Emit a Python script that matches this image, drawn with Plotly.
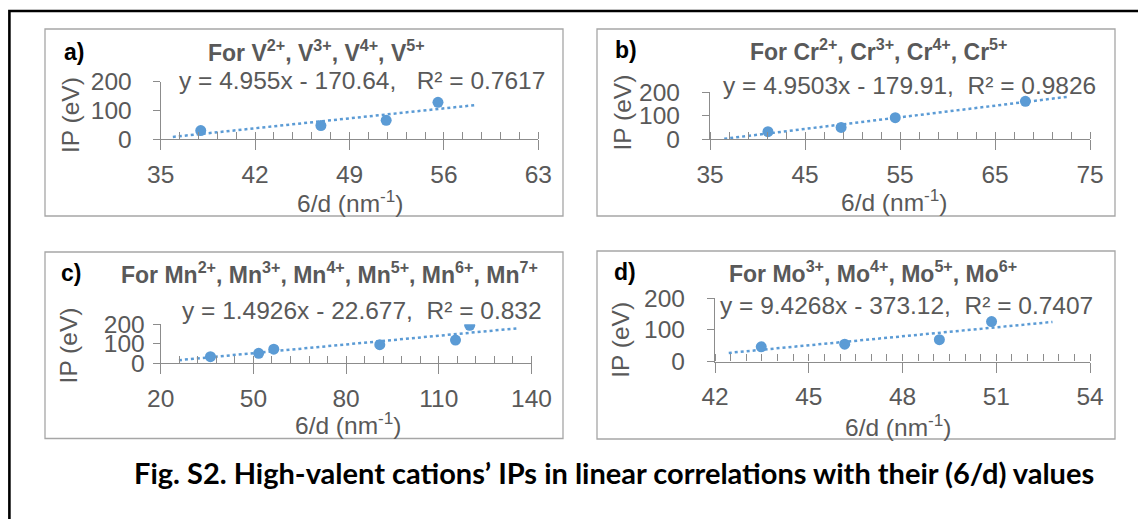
import plotly.graph_objects as go

W, H = 1146, 519

# ---------------- data ----------------
a_x = [37.97, 46.88, 51.72, 55.56]
a_y = [29.31, 46.71, 65.28, 128.13]
a_fit = (4.955, -170.64)
a_fit_x = [35.9, 58.3]

b_x = [41.1, 48.8, 54.5, 68.2]
b_y = [30.96, 49.16, 90.63, 160.18]
b_fit = (4.9503, -179.91)
b_fit_x = [36.5, 72.8]

c_x = [36.1, 51.7, 56.6, 90.9, 115.4, 120.0]
c_y = [33.67, 51.2, 72.4, 95.6, 119.2, 194.5]
c_fit = (1.4926, -22.677)
c_fit_x = [25.9, 135.1]

d_x = [43.48, 46.15, 49.18, 50.85]
d_y = [46.4, 54.49, 68.83, 125.66]
d_fit = (9.4268, -373.12)
d_fit_x = [42.44, 52.8]

titles = [
    "For V<sup>2+</sup>, V<sup>3+</sup>, V<sup>4+</sup>, V<sup>5+</sup>",
    "For Cr<sup>2+</sup>, Cr<sup>3+</sup>, Cr<sup>4+</sup>, Cr<sup>5+</sup>",
    "For Mn<sup>2+</sup>, Mn<sup>3+</sup>, Mn<sup>4+</sup>, Mn<sup>5+</sup>, Mn<sup>6+</sup>, Mn<sup>7+</sup>",
    "For Mo<sup>3+</sup>, Mo<sup>4+</sup>, Mo<sup>5+</sup>, Mo<sup>6+</sup>",
]
equations = [
    "y = 4.955x - 170.64,   R² = 0.7617",
    "y = 4.9503x - 179.91,  R² = 0.9826",
    "y = 1.4926x - 22.677,  R² = 0.832",
    "y = 9.4268x - 373.12,  R² = 0.7407",
]
letters = ["a)", "b)", "c)", "d)"]
x_ranges = [[35, 63], [35, 75], [20, 140], [42, 54]]
x_dticks = [7, 10, 30, 3]
x_minor = [1.4, 2, 6, 0.5]
y_range = [0, 200]
caption = "Fig. S2. High-valent cations\u2019 IPs in linear correlations with their (6/d) values"

# ---------------- layout geometry (page pixels) ----------------
areas = [
    (160.7, 538.3, 81.7, 139.0),
    (710.0, 1090.0, 92.0, 139.0),
    (160.7, 531.5, 324.3, 363.3),
    (715.0, 1090.0, 298.0, 361.5),
]
frames = [(45, 29, 563, 216), (597, 29, 1115, 216), (45, 252, 563, 438.5), (597, 251, 1115, 439)]
title_pos = [(316.7, 51), (878, 50), (329.8, 273), (872.7, 272)]
letter_pos = [(74, 52), (626, 50), (71, 273), (625, 272)]
eq_pos = [(361.7, 81), (909, 85), (361.5, 310), (906, 305)]
xt_pos = [(350, 201.7), (894, 200), (347.8, 423.3), (897.7, 425)]
yt_pos = [(70, 115), (621.5, 113), (68.4, 345), (619.7, 340)]
ylab_standoff = [16, 17, 3, 17]

OFF = 8  # page offset of the figure (body margin)

def px(x):
    return (x - OFF) / W

def py(y):
    return 1 - (y - OFF) / H

FONT = "Liberation Sans, Arial, sans-serif"
GREY = "#595959"
AXC = "#8C8C8C"
BLUE = "#5B9BD5"
FS = 24.5

fig = go.Figure()

datasets = [(a_x, a_y, a_fit, a_fit_x), (b_x, b_y, b_fit, b_fit_x),
            (c_x, c_y, c_fit, c_fit_x), (d_x, d_y, d_fit, d_fit_x)]

for i, (xs, ys, fit, fx) in enumerate(datasets):
    n = "" if i == 0 else str(i + 1)
    xa, ya = "x" + n, "y" + n
    m, b = fit
    fig.add_trace(go.Scatter(x=fx, y=[m * v + b for v in fx], mode="lines",
                             line=dict(color=BLUE, width=2.5, dash="dot"),
                             xaxis=xa, yaxis=ya, showlegend=False, hoverinfo="skip"))
    fig.add_trace(go.Scatter(x=xs, y=ys, mode="markers",
                             marker=dict(color=BLUE, size=11),
                             xaxis=xa, yaxis=ya, showlegend=False))
    x0, x1, yt, yb = areas[i]
    fig.layout["xaxis" + n] = dict(
        domain=[px(x0), px(x1)], range=x_ranges[i], dtick=x_dticks[i], tick0=x_ranges[i][0],
        anchor=ya, showgrid=False, zeroline=False, showline=True, linecolor=AXC, linewidth=1.3,
        ticks="outside", ticklen=10, tickcolor=AXC, tickwidth=1.3,
        tickfont=dict(family=FONT, size=FS, color=GREY), ticklabelstandoff=3,
        minor=dict(dtick=x_minor[i], tick0=x_ranges[i][0], ticks="inside", ticklen=7,
                   tickcolor=AXC, tickwidth=1.3, showgrid=False),
        fixedrange=True, automargin=False,
    )
    fig.layout["yaxis" + n] = dict(
        domain=[py(yb), py(yt)], range=y_range, dtick=100, anchor=xa,
        showgrid=False, zeroline=False, showline=True, linecolor=AXC, linewidth=1.3,
        ticks="outside", ticklen=7, tickcolor=AXC, tickwidth=1.3,
        tickfont=dict(family=FONT, size=FS, color=GREY), ticklabelstandoff=ylab_standoff[i],
        fixedrange=True, automargin=False,
    )
    fx0, fy0, fx1, fy1 = frames[i]
    fig.add_shape(type="rect", xref="paper", yref="paper",
                  x0=px(fx0), x1=px(fx1), y0=py(fy1), y1=py(fy0),
                  line=dict(color="#A6A6A6", width=1.3), layer="below")
    fig.add_annotation(x=px(title_pos[i][0]), y=py(title_pos[i][1]), xref="paper", yref="paper",
                       text="<b>" + titles[i] + "</b>", showarrow=False,
                       xanchor="center", yanchor="middle",
                       font=dict(family=FONT, size=23, color=GREY))
    fig.add_annotation(x=px(letter_pos[i][0]), y=py(letter_pos[i][1]), xref="paper", yref="paper",
                       text="<b>" + letters[i] + "</b>", showarrow=False,
                       xanchor="center", yanchor="middle",
                       font=dict(family=FONT, size=23, color="#000000"))
    fig.add_annotation(x=px(eq_pos[i][0]), y=py(eq_pos[i][1]), xref="paper", yref="paper",
                       text=equations[i].replace(" ", "\u00a0"), showarrow=False,
                       xanchor="center", yanchor="middle",
                       font=dict(family=FONT, size=FS, color=GREY))
    fig.add_annotation(x=px(xt_pos[i][0]), y=py(xt_pos[i][1]), xref="paper", yref="paper",
                       text="6/d (nm<sup>-1</sup>)", showarrow=False,
                       xanchor="center", yanchor="middle",
                       font=dict(family=FONT, size=FS, color=GREY))
    fig.add_annotation(x=px(yt_pos[i][0]), y=py(yt_pos[i][1]), xref="paper", yref="paper",
                       text="IP (eV)", showarrow=False, textangle=-90,
                       xanchor="center", yanchor="middle",
                       font=dict(family=FONT, size=FS, color=GREY))

# outer border (left edge as close to the page edge as the figure allows)
fig.add_shape(type="rect", xref="paper", yref="paper",
              x0=1.4 / W, x1=px(1160), y0=py(540), y1=py(11),
              line=dict(color="#000000", width=2.6), layer="below")

fig.add_annotation(x=px(614), y=py(472), xref="paper", yref="paper",
                   text="<b>" + caption + "</b>", showarrow=False,
                   xanchor="center", yanchor="middle",
                   font=dict(family="Lato, Open Sans, sans-serif", size=29, color="#000000"))

fig.update_layout(width=W, height=H, margin=dict(l=0, r=0, t=0, b=0, autoexpand=False),
                  paper_bgcolor="white", plot_bgcolor="rgba(0,0,0,0)")

fig.write_html("out.html")
